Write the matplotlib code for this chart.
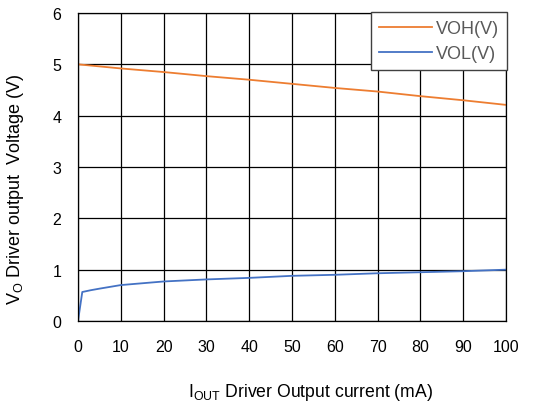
import numpy as np
import matplotlib.pyplot as plt

plt.rcParams['font.family'] = ['Liberation Sans', 'DejaVu Sans']
plt.rcParams['mathtext.fontset'] = 'custom'
plt.rcParams['mathtext.rm'] = 'Liberation Sans'

# data
i_out = [0, 10, 20, 30, 40, 50, 60, 70, 80, 90, 100]
voh = [5.0, 4.92, 4.85, 4.77, 4.70, 4.62, 4.54, 4.47, 4.38, 4.30, 4.21]
i_low = [0, 1, 3, 5, 10, 20, 30, 40, 50, 60, 70, 80, 90, 100]
vol = [0.0, 0.565, 0.60, 0.63, 0.70, 0.77, 0.81, 0.84, 0.88, 0.90, 0.93, 0.95, 0.97, 1.0]

fig = plt.figure(figsize=(5.52, 4.06), dpi=100)
ax = fig.add_axes([78/552, 1-322/406, 428/552, 308/406])

ax.plot(i_out, voh, c='#ED7D31', lw=1.3, label='VOH(V)')
ax.plot(i_low, vol, c='#4472C4', lw=1.3, label='VOL(V)')

ax.set_xlim(0, 100)
ax.set_ylim(0, 6)
ax.set_xticks(np.arange(0, 101, 10))
ax.set_yticks(np.arange(0, 7, 1))
ax.grid(True, color='black', lw=0.9)
ax.set_axisbelow(True)
ax.tick_params(length=0, labelsize=11.5)
ax.tick_params(axis='x', pad=13)
ax.tick_params(axis='y', pad=12)
for s in ax.spines.values():
    s.set_color('black')
    s.set_linewidth(0.9)

ax.set_xlabel(r'$\mathregular{I_{OUT}}$ Driver Output current (mA)', fontsize=12.7)
ax.xaxis.set_label_coords((311-78)/428, -0.196)
ax.set_ylabel(r'$\mathregular{V_O}$ Driver output  Voltage (V)', fontsize=13)
ax.yaxis.set_label_coords(-0.122, 0.43)

leg = ax.legend(loc='upper right', bbox_to_anchor=(1.003, 1.004), fontsize=13,
                handlelength=2.9, handletextpad=0.25, labelspacing=0.45,
                fancybox=False, framealpha=1, borderaxespad=0, borderpad=0.45,
                labelcolor='#595959')
leg.get_frame().set_edgecolor('#404040')

plt.savefig('out.png')
